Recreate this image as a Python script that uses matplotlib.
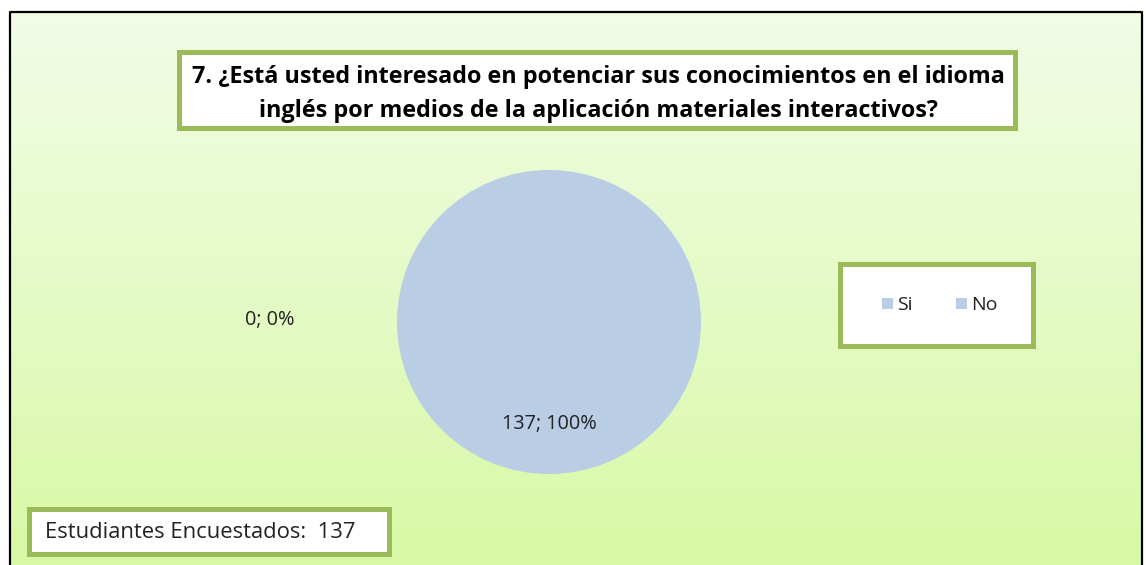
import numpy as np
import matplotlib.pyplot as plt
from matplotlib.patches import Rectangle
from matplotlib.colors import LinearSegmentedColormap

plt.rcParams['font.family'] = ['Open Sans', 'DejaVu Sans']

# datos
categorias = ['Si', 'No']
valores = [0, 137]
total = 137
titulo = '7. ¿Está usted interesado en potenciar sus conocimientos en el idioma\ninglés por medios de la aplicación materiales interactivos?'
azul = '#b9cde5'
verde = '#9bbb59'

fig = plt.figure(figsize=(11.46, 5.65), dpi=100)
fig.patch.set_facecolor('white')

# fondo en coordenadas de pixel
bg = fig.add_axes([0, 0, 1, 1])
bg.set_xlim(0, 1146)
bg.set_ylim(565, 0)
bg.axis('off')

cmap = LinearSegmentedColormap.from_list('g', ['#f2fce7', '#d8f9a6'])
grad = np.linspace(0, 1, 256).reshape(-1, 1)
bg.imshow(grad, cmap=cmap, extent=[10, 1142, 565, 12], aspect='auto', zorder=0)
bg.plot([10, 10, 1142, 1142], [565, 12, 12, 565], color='black', lw=1.6, zorder=1)

# torta
ax = fig.add_axes([397 / 1146, 1 - 476 / 565, 304 / 1146, 308 / 565])
ax.pie(valores, colors=[azul, azul], startangle=90, counterclock=False,
       radius=1, wedgeprops=dict(linewidth=0))
ax.set_xlim(-1, 1)
ax.set_ylim(-1, 1)
ax.axis('off')

# capa superior para textos y cajas
top = fig.add_axes([0, 0, 1, 1])
top.set_xlim(0, 1146)
top.set_ylim(565, 0)
top.axis('off')
top.patch.set_alpha(0)

# caja del titulo
top.add_patch(Rectangle((179, 52), 836, 76, facecolor='white', edgecolor=verde, lw=3.6))
top.text(598, 94, titulo, ha='center', va='center', fontsize=16.8, fontweight='bold',
         linespacing=1.6, color='black')

# leyenda
top.add_patch(Rectangle((840, 264), 193, 82, facecolor='white', edgecolor=verde, lw=3.6))
xs = [882, 956]
for x, c in zip(xs, categorias):
    top.add_patch(Rectangle((x, 298), 11, 11, facecolor=azul, edgecolor='none'))
    top.text(x + 15, 305, c, ha='left', va='center', fontsize=14, color='#222222')

# caja inferior
top.add_patch(Rectangle((29, 509), 360, 45, facecolor='white', edgecolor=verde, lw=3.6))
top.text(45, 532, 'Estudiantes Encuestados:  ' + str(total), ha='left', va='center',
         fontsize=15.8, color='#222222')

porc = [v / sum(valores) * 100 for v in valores]
etiquetas = ['%d; %d%%' % (v, p) for v, p in zip(valores, porc)]
top.text(270, 320, etiquetas[0], ha='center', va='center', fontsize=14.3, color='#222222')
top.text(549, 424, etiquetas[1], ha='center', va='center', fontsize=14.3, color='#222222')

fig.savefig('out.png', dpi=100)
